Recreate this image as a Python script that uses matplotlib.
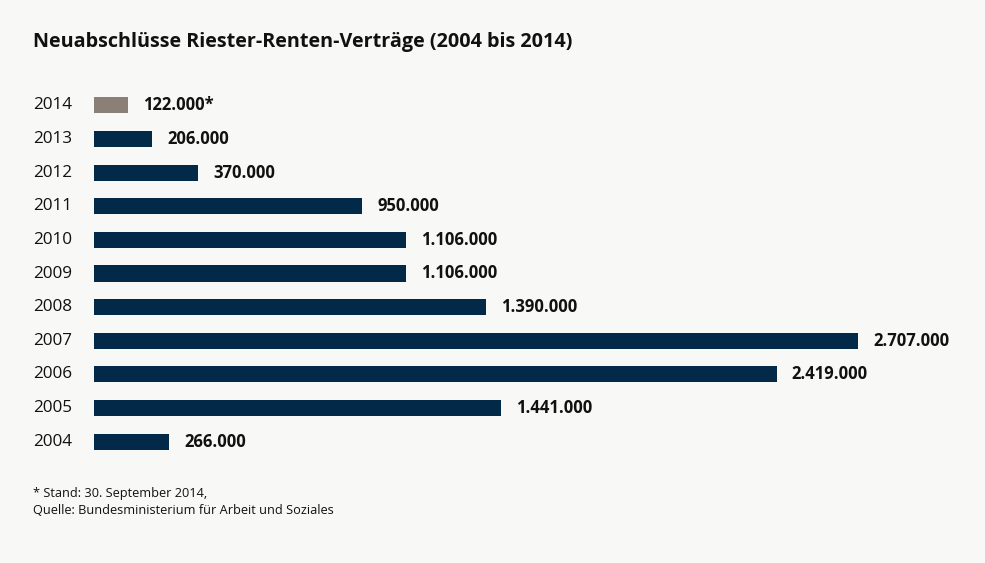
import matplotlib
matplotlib.use("Agg")
import matplotlib.pyplot as plt
from matplotlib.transforms import offset_copy, blended_transform_factory

years = ["2004", "2005", "2006", "2007", "2008", "2009", "2010", "2011", "2012", "2013", "2014"]
values = [266000, 1441000, 2419000, 2707000, 1390000, 1106000, 1106000, 950000, 370000, 206000, 122000]
labels = ["266.000", "1.441.000", "2.419.000", "2.707.000", "1.390.000", "1.106.000",
          "1.106.000", "950.000", "370.000", "206.000", "122.000*"]
colors = ["#022a48"] * 10 + ["#8c7f75"]

title = "Neuabschlüsse Riester-Renten-Verträge (2004 bis 2014)"
footnote1 = "* Stand: 30. September 2014,"
footnote2 = "Quelle: Bundesministerium für Arbeit und Soziales"

W, H = 985, 563
bg = "#f8f8f6"
plt.rcParams['font.family'] = ['Open Sans', 'DejaVu Sans']

fig = plt.figure(figsize=(W / 100, H / 100), dpi=100, facecolor=bg)
top_px, bot_px = 88.5, 458.5
ax = fig.add_axes([94 / W, (H - bot_px) / H, 764 / W, (bot_px - top_px) / H])
ax.set_facecolor(bg)
y = list(range(len(years)))
ax.barh(y, values, height=0.48, color=colors)
ax.set_xlim(0, max(values))
ax.set_ylim(-0.5, len(years) - 0.5)
for s in ax.spines.values():
    s.set_visible(False)
ax.set_xticks([])
ax.set_yticks([])

off = offset_copy(ax.transData, fig=fig, x=15, y=0, units='dots')
for yi, v, lab in zip(y, values, labels):
    ax.text(v, yi, lab, transform=off, ha='left', va='center', fontsize=12.0,
            fontweight='bold', color='#111111', clip_on=False)

ylab_tr = blended_transform_factory(fig.transFigure, ax.transData)
for yi, yr in zip(y, years):
    ax.text(33 / W, yi, yr, transform=ylab_tr, ha='left', va='center', fontsize=12.3,
            color='#111111', clip_on=False)

fig.text(33 / W, (H - 42) / H, title, ha='left', va='center', fontsize=14.2,
         fontweight='bold', color='#111111')
fig.text(33 / W, (H - 494) / H, footnote1, ha='left', va='center', fontsize=9.2, color='#111111')
fig.text(33 / W, (H - 511) / H, footnote2, ha='left', va='center', fontsize=9.2, color='#111111')

fig.savefig("out.png", dpi=100, facecolor=bg)
